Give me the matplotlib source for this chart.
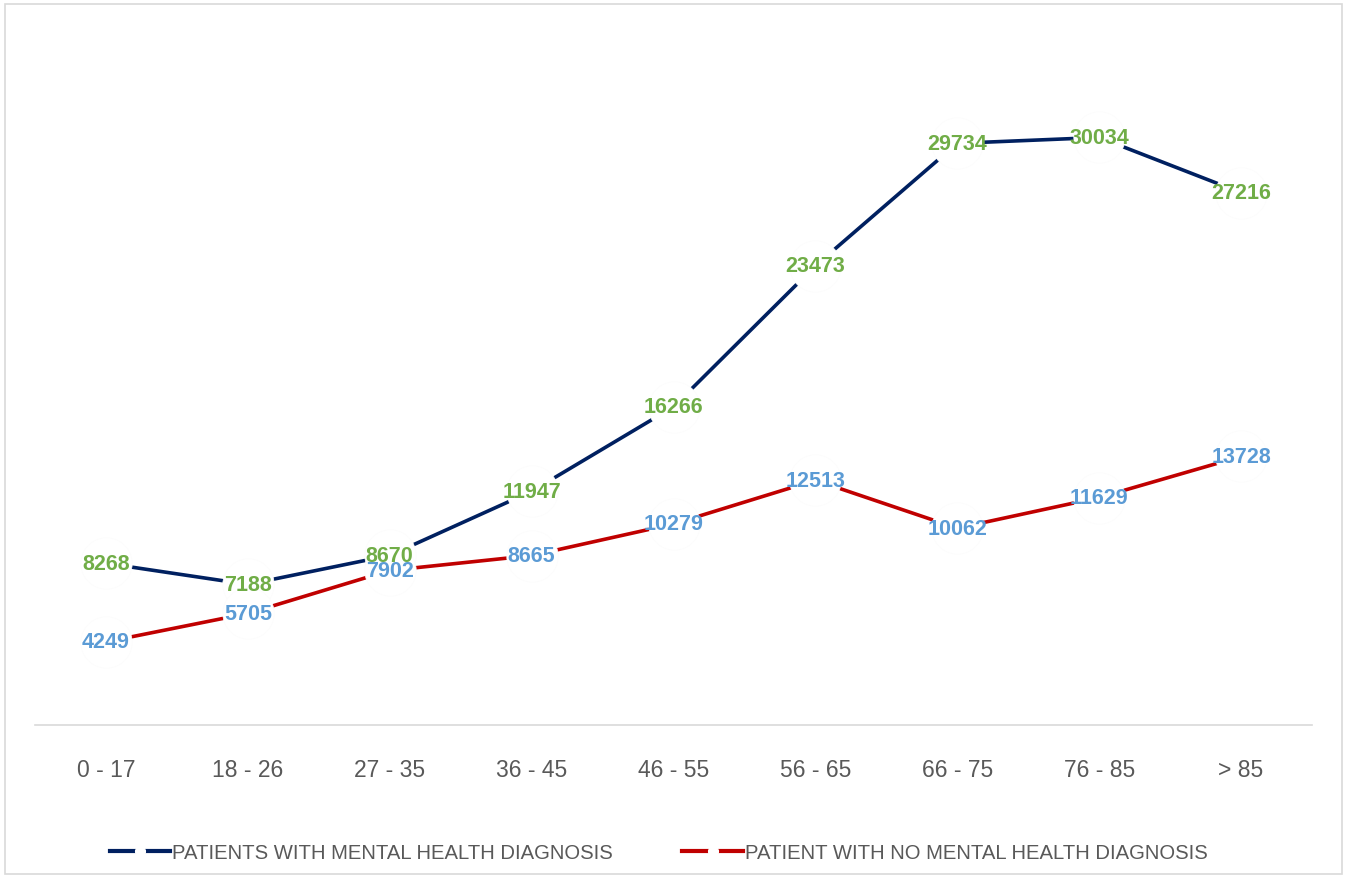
import matplotlib
matplotlib.use("Agg")
import matplotlib.pyplot as plt
from matplotlib.patches import Rectangle
from matplotlib.lines import Line2D

# age bands and patient counts
ages = ["0 - 17", "18 - 26", "27 - 35", "36 - 45", "46 - 55", "56 - 65", "66 - 75", "76 - 85", "> 85"]
with_mh = [8268, 7188, 8670, 11947, 16266, 23473, 29734, 30034, 27216]
without_mh = [4249, 5705, 7902, 8665, 10279, 12513, 10062, 11629, 13728]

NAVY, RED = "#002060", "#C00000"
GREEN, BLUE = "#70AD47", "#5B9BD5"
GREY = "#595959"

plt.rcParams["font.family"] = ["Liberation Sans", "DejaVu Sans"]

fig = plt.figure(figsize=(13.47, 8.79), dpi=100)
ax = fig.add_axes([0.026, 0.174, 0.948, 0.779])
x = list(range(len(ages)))

series = [
    (with_mh, NAVY, GREEN, "PATIENTS WITH MENTAL HEALTH DIAGNOSIS"),
    (without_mh, RED, BLUE, "PATIENT WITH NO MENTAL HEALTH DIAGNOSIS"),
]
for vals, lc, tc, name in series:
    ax.plot(x, vals, color=lc, lw=2.6, solid_capstyle="butt", zorder=2,
            marker="o", ms=37, mfc="white", mec="#fcfcfc", mew=0.5)
for vals, lc, tc, name in series:
    for xi, v in zip(x, vals):
        ax.text(xi, v, str(v), color=tc, fontsize=15.5, fontweight="bold",
                ha="center", va="center", zorder=5)

ax.set_xlim(-0.5, len(ages) - 0.5)
ax.set_ylim(0, 35000)
ax.set_yticks([])
ax.set_xticks(x)
ax.set_xticklabels(ages, fontsize=16.5, color=GREY)
ax.tick_params(axis="x", length=0, pad=24)
for s in ["top", "right", "left"]:
    ax.spines[s].set_visible(False)
ax.spines["bottom"].set_color("#d9d9d9")
ax.spines["bottom"].set_linewidth(1.2)

# legend: line with a small white gap in the middle, like Excel draws it
handles = [Line2D([0], [0], color=c, lw=3, marker="o", ms=7, mfc="white", mec="white")
           for _, c, _, _ in series]
fig.legend(handles, [s[3] for s in series], loc="center", bbox_to_anchor=(0.489, 0.029),
           ncol=2, frameon=False, fontsize=14.6, labelcolor=GREY, handlelength=3.0,
           handletextpad=0.1, columnspacing=3.4)

fig.add_artist(Rectangle((0.004, 0.004), 0.992, 0.99, transform=fig.transFigure,
                         fill=False, edgecolor="#d9d9d9", lw=1.2))

fig.savefig("out.png", dpi=100)
